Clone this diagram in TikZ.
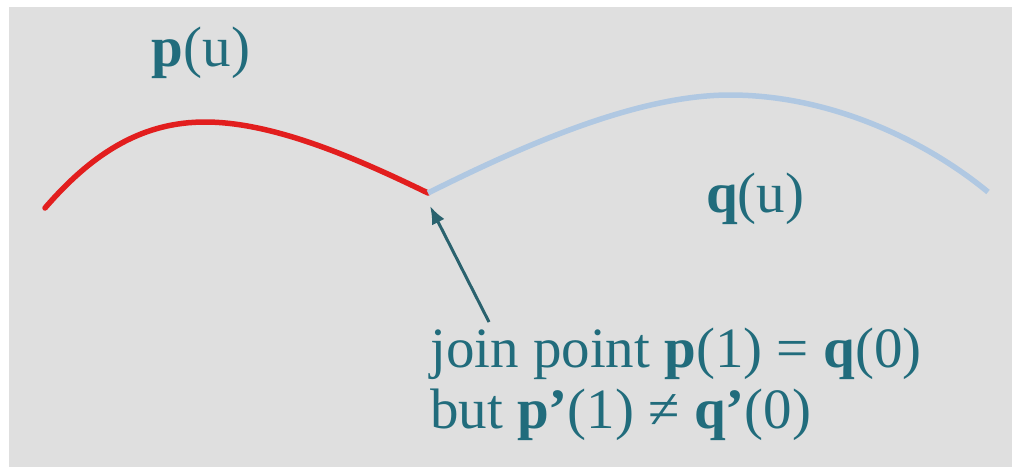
\documentclass[tikz,border=0pt]{standalone}
\usepackage{fontspec}
\setmainfont{Liberation Serif}
\usepackage{xcolor}
\usetikzlibrary{arrows.meta,positioning}

\definecolor{panelgray}{RGB}{223,223,223}
\definecolor{labelteal}{RGB}{33,108,124}
\definecolor{arrowteal}{RGB}{42,98,110}
\definecolor{curvered}{RGB}{226,30,30}
\definecolor{curveblue}{RGB}{176,200,226}

\begin{document}
\begin{tikzpicture}[
  x=1pt,
  y=-1pt,
  >=Latex,
  every node/.style={font=\fontsize{57}{65}\selectfont,text=labelteal,inner sep=0pt},
  segment/.style={line width=5.5pt,line cap=round},
  pointer/.style={
    -{Latex[length=18pt,width=14pt]},
    draw=arrowteal,
    line width=3pt
  }
]
\useasboundingbox (0,0) rectangle (1012,467);

% Gray panel.
\fill[panelgray] (9,7) rectangle (1012,467);

% Join of the two segments.
\coordinate (joint) at (428,193);

% First segment p(u).
\draw[segment,draw=curvered]
  (45,208)
  .. controls (95,150) and (145,122) .. (205,122)
  .. controls (275,122) and (360,160) .. (joint);

% Second segment q(u).
\draw[segment,draw=curveblue,line cap=butt]
  (joint)
  .. controls (530,142) and (640,95) .. (730,95)
  .. controls (830,95) and (925,140) .. (988,192);

% Curve labels.
\node[anchor=base] (plabel) at (201,66) {\textbf{p}(u)};
\node[anchor=base west] (qlabel) at (706,212) {\textbf{q}(u)};

% Note on the join point.
\node[anchor=base west] (noteA) at (430,367) {join point \textbf{p}(1) = \textbf{q}(0)};
\node[anchor=base west] (noteB) at (430,428) {but \textbf{p’}(1) ≠ \textbf{q’}(0)};

\coordinate (tail) at (489,322);
\coordinate (tip) at (430,206);
\draw[pointer] (tail) -- (tip);

\end{tikzpicture}
\end{document}
